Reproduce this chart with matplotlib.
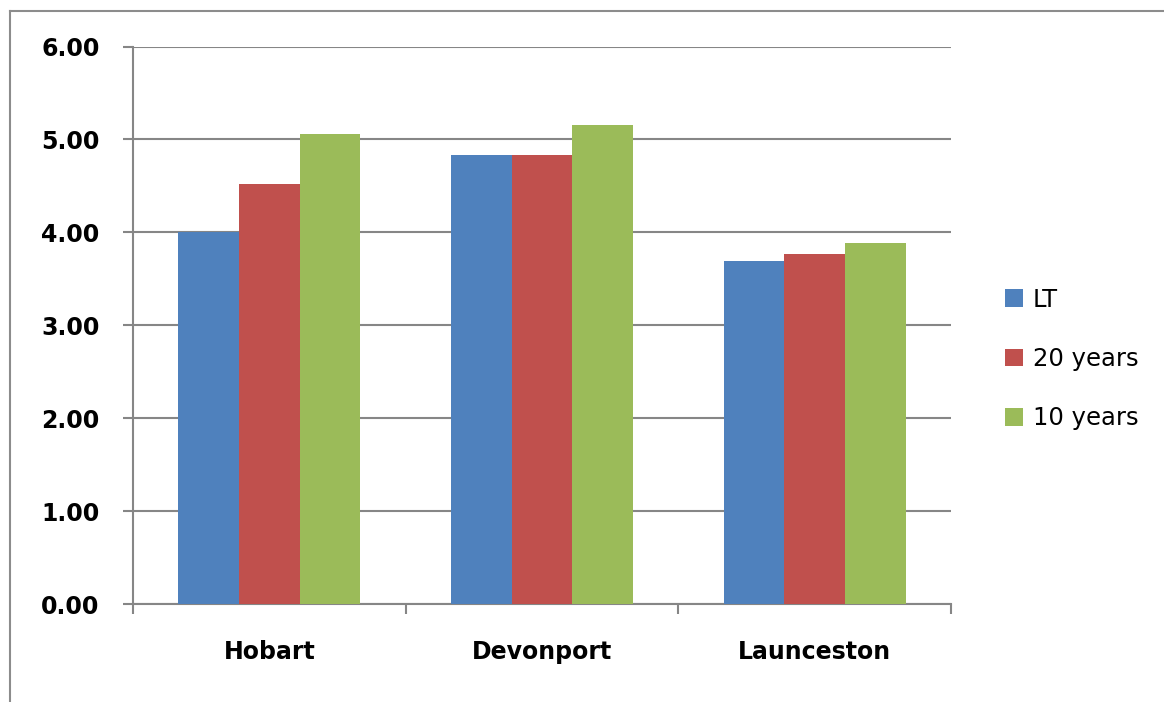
import matplotlib
matplotlib.use("Agg")
import matplotlib.pyplot as plt
from matplotlib.lines import Line2D
import numpy as np

cities = ["Hobart", "Devonport", "Launceston"]
series_names = ["LT", "20 years", "10 years"]
lt_values = [4.00, 4.83, 3.69]
y20_values = [4.52, 4.83, 3.77]
y10_values = [5.06, 5.16, 3.88]
y_ticks = [0.0, 1.0, 2.0, 3.0, 4.0, 5.0, 6.0]
colors = ["#4F81BD", "#C0504D", "#9BBB59"]

W, H = 1164, 702
fig = plt.figure(figsize=(W / 100, H / 100), dpi=100)
fig.patch.set_facecolor("white")

# outer chart frame (left and top edges visible)
frame_col = "#8C8C8C"
fig.add_artist(Line2D([10 / W, 10 / W], [0, 1 - 11 / H], transform=fig.transFigure,
                      color=frame_col, lw=1.5))
fig.add_artist(Line2D([10 / W, 1], [1 - 11 / H, 1 - 11 / H], transform=fig.transFigure,
                      color=frame_col, lw=1.5))

left, right = 133 / W, 951 / W
bottom, top = (H - 604) / H, (H - 46.5) / H
ax = fig.add_axes([left, bottom, right - left, top - bottom])

n = len(cities)
x = np.arange(n)
group = 3 / 4.5
bw = group / 3
all_vals = [lt_values, y20_values, y10_values]
for i, (vals, name, c) in enumerate(zip(all_vals, series_names, colors)):
    ax.bar(x - group / 2 + bw * (i + 0.5), vals, width=bw, color=c, label=name,
           edgecolor="none", zorder=3)

ax.set_xlim(-0.5, n - 0.5)
ax.set_ylim(0, 6)
ax.set_yticks(y_ticks)
ax.set_yticklabels([f"{v:.2f}" for v in y_ticks])
ax.yaxis.grid(True, color="#868686", lw=1.5, zorder=0)
ax.set_axisbelow(True)

grid_col = "#868686"
for s in ["top", "right"]:
    ax.spines[s].set_visible(False)
for s in ["left", "bottom"]:
    ax.spines[s].set_color(grid_col)
    ax.spines[s].set_linewidth(1.5)

ax.set_xticks(np.arange(n + 1) - 0.5)
ax.set_xticklabels([])
ax.set_xticks(x, minor=True)
ax.set_xticklabels(cities, minor=True, fontsize=17, fontweight="bold", family="DejaVu Sans")
ax.tick_params(axis="x", which="major", length=7, width=1.5, color=grid_col, direction="out")
ax.tick_params(axis="x", which="minor", length=0, pad=26)
ax.tick_params(axis="y", length=7, width=1.5, color=grid_col, direction="out", pad=17)
for lab in ax.get_yticklabels():
    lab.set_fontsize(17)
    lab.set_fontweight("bold")
    lab.set_family("DejaVu Sans")

handles, labels = ax.get_legend_handles_labels()
leg = fig.legend(handles, labels, loc="center left", bbox_to_anchor=(995 / W, 1 - 359 / H),
                 frameon=False, fontsize=17.5, handlelength=0.75, handleheight=0.75,
                 handletextpad=0.4, labelspacing=1.45, borderaxespad=0)

fig.savefig("out.png", dpi=100, facecolor="white")
